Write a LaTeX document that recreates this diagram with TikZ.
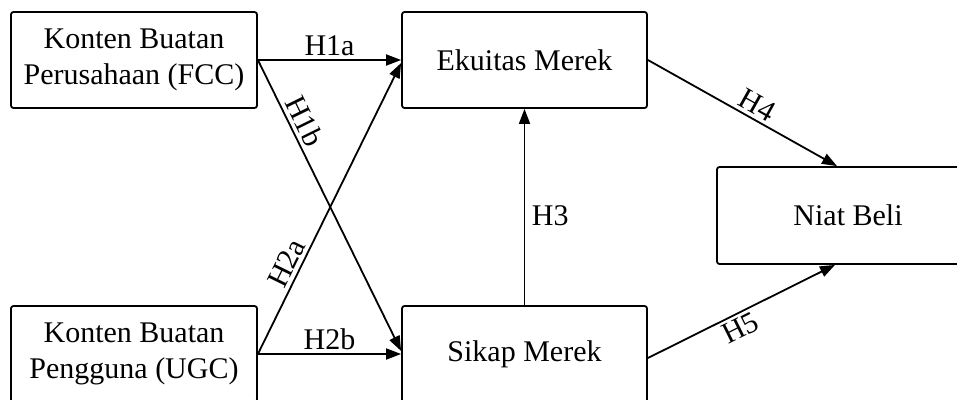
\documentclass[tikz,border=0pt]{standalone}
\usepackage{fontspec}
\setmainfont{Liberation Serif}
\usetikzlibrary{arrows.meta,calc}
\begin{document}
\begin{tikzpicture}[x=1pt,y=-1pt,
  txt/.style={font=\fontsize{30}{36.5}\selectfont},
  box/.style={txt, draw, line width=1.8pt, rounded corners=2.5pt, align=center,
    inner sep=0pt, minimum height=96pt},
  link/.style={line width=1.8pt, -{Triangle[length=15pt,width=11pt]}},
  lab/.style={txt, inner sep=3.5pt}]
\useasboundingbox (0,0) rectangle (957,399);
\clip (0,0) rectangle (957,399);

% constructs
\node[box, minimum width=246pt] (fcc) at (134,60) {Konten Buatan\\Perusahaan (FCC)};
\node[box, minimum width=246pt] (ugc) at (134,354) {Konten Buatan\\Pengguna (UGC)};
\node[box, minimum width=245pt] (em) at (524.5,60) {Ekuitas Merek};
\node[box, minimum width=245pt] (sm) at (524.5,354) {Sikap Merek};
\node[box, minimum width=262pt, minimum height=97pt] (nb) at (848,215.5) {Niat Beli};

% hypothesised paths
\draw[link] (fcc.east) -- node[lab, above] {H1a} (em.west);
\draw[link] (fcc.east) -- node[lab, sloped, above, pos=0.233] {H1b} ([yshift=3pt]sm.west);
\draw[link] (ugc.east) -- node[lab, sloped, above, pos=0.29] {H2a} ([yshift=-3pt]em.west);
\draw[link] (ugc.east) -- node[lab, above] {H2b} (sm.west);
\draw[link] (sm.north) -- node[lab, right, pos=0.455, xshift=3pt] {H3} (em.south);
\draw[link] (em.east) -- node[lab, sloped, above, pos=0.54] {H4} ([xshift=-11pt]nb.north);
\draw[link] ([yshift=-4pt]sm.east) -- node[lab, sloped, below, pos=0.46] {H5} ([xshift=-13pt]nb.south);
\end{tikzpicture}
\end{document}
